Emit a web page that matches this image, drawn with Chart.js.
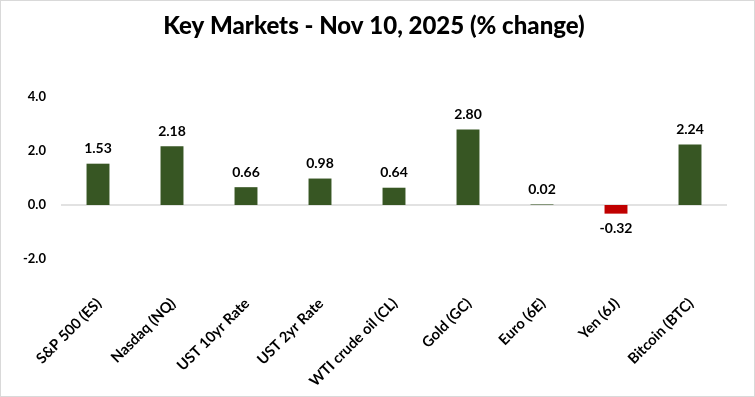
<!DOCTYPE html>
<html><head><meta charset="utf-8">
<script src="https://cdn.jsdelivr.net/npm/chart.js@4"></script>
<style>html,body{margin:0;padding:0;background:#fff}#wrap{width:755px;height:397px;position:relative}</style>
</head><body><div id="wrap"><canvas id="c" width="755" height="397"></canvas></div>
<script>
const titleText = "Key Markets - Nov 10, 2025 (% change)";
const categories = ["S&P 500 (ES)","Nasdaq (NQ)","UST 10yr Rate","UST 2yr Rate","WTI crude oil (CL)","Gold (GC)","Euro (6E)","Yen (6J)","Bitcoin (BTC)"];
const values = [1.53, 2.18, 0.66, 0.98, 0.64, 2.80, 0.02, -0.32, 2.24];
const yMin = -2, yMax = 4, yStep = 2;

const FONT = "Lato, 'Open Sans', sans-serif";
const GREEN = "#375623", RED = "#c00000";

const frame = {
  id: 'frame',
  beforeDraw(chart){
    const c = chart.ctx;
    c.save();
    c.fillStyle = '#fff'; c.fillRect(0,0,chart.width,chart.height);
    c.strokeStyle = '#d9d9d9'; c.lineWidth = 1;
    c.strokeRect(0.5,0.5,chart.width-1,chart.height-1);
    c.font = "900 24px " + FONT;
    c.fillStyle = '#000'; c.textAlign = 'center'; c.textBaseline = 'middle';
    c.fillText(titleText, 374, 26);
    c.restore();
  },
  afterDatasetsDraw(chart){
    const c = chart.ctx;
    const meta = chart.getDatasetMeta(0);
    c.save();
    c.font = "bold 14px " + FONT;
    c.fillStyle = '#000'; c.textAlign = 'center';
    meta.data.forEach((bar, i) => {
      const v = values[i];
      if (v >= 0) { c.textBaseline = 'bottom'; c.fillText(v.toFixed(2), bar.x, bar.y - 8); }
      else { c.textBaseline = 'top'; c.fillText(v.toFixed(2), bar.x, bar.y + 8); }
    });
    c.restore();
  },
  afterDraw(chart){
    // rotated category labels, anchored at each tick of the x scale
    const c = chart.ctx, xs = chart.scales.x;
    c.save();
    c.font = "bold 14.7px " + FONT;
    c.fillStyle = '#000'; c.textAlign = 'right'; c.textBaseline = 'middle';
    categories.forEach((lab, i) => {
      const x = xs.getPixelForTick(i);
      c.save();
      c.translate(x + 1, 301);
      c.rotate(-Math.PI / 4);
      c.fillText(lab, 0, 0);
      c.restore();
    });
    c.restore();
  }
};

new Chart(document.getElementById('c'), {
  type: 'bar',
  data: {
    labels: categories,
    datasets: [{
      data: values,
      backgroundColor: values.map(v => v < 0 ? RED : GREEN),
      barPercentage: 0.62,
      categoryPercentage: 0.5
    }]
  },
  options: {
    responsive: false,
    animation: false,
    devicePixelRatio: 1,
    layout: { padding: { top: 97, right: 28, left: 0, bottom: 0 } },
    plugins: { legend: { display: false }, title: { display: false }, tooltip: { enabled: false } },
    scales: {
      x: {
        grid: { display: false, drawTicks: false },
        border: { display: false },
        ticks: { display: false, autoSkip: false },
        afterFit(s){ s.height = 138; }
      },
      y: {
        min: yMin, max: yMax,
        grid: { display: false, drawTicks: false },
        border: { display: false },
        ticks: { stepSize: yStep, color: '#000', padding: 15, font: { family: FONT, size: 13, weight: 'bold' }, callback: v => Number(v).toFixed(1) },
        afterFit(s){ s.width = 61; }
      }
    }
  },
  plugins: [frame, {
    id: 'zeroLine',
    beforeDatasetsDraw(chart){
      const c = chart.ctx, y = chart.scales.y.getPixelForValue(0), a = chart.chartArea;
      c.save(); c.strokeStyle = '#d9d9d9'; c.lineWidth = 1.5;
      c.beginPath(); c.moveTo(a.left, y); c.lineTo(a.right, y); c.stroke(); c.restore();
    }
  }]
});
</script></body></html>
